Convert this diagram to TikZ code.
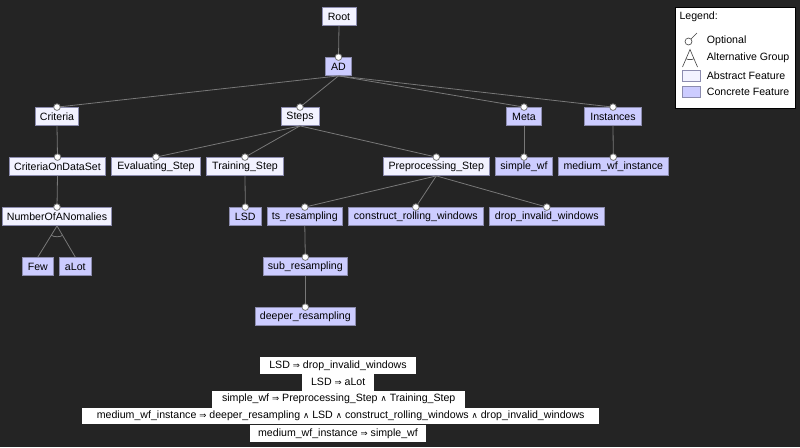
\documentclass[tikz,border=0pt]{standalone}
\usepackage{fontspec}
\usetikzlibrary{calc}
\setmainfont{Liberation Sans}
\newfontfamily\symfont{DejaVu Sans}
\definecolor{bgc}{RGB}{36,36,36}
\definecolor{absfill}{RGB}{242,242,255}
\definecolor{confill}{RGB}{204,204,255}
\definecolor{fborder}{RGB}{140,140,175}
\definecolor{edgec}{RGB}{120,120,120}
\tikzset{
  feat/.style={draw=fborder, line width=0.8pt, minimum height=18pt, inner xsep=2pt, inner ysep=0pt, font=\fontsize{10.6}{12}\selectfont, text=black},
  abs/.style={feat, fill=absfill},
  con/.style={feat, fill=confill},
  edge/.style={draw=edgec, line width=0.8pt},
  opt/.style={draw=edgec, fill=white, line width=0.8pt},
  cons/.style={fill=white, inner xsep=2pt, inner ysep=0pt, minimum height=16.6pt, font=\fontsize{10.6}{12}\selectfont, text=black},
  legtext/.style={anchor=west, inner sep=0pt, font=\fontsize{10.6}{12}\selectfont, text=black},
  legline/.style={draw=black!75, line width=0.6pt}
}
\newcommand{\myimp}{{\symfont\fontsize{8.5}{10}\selectfont ⇒}}
\newcommand{\myand}{{\symfont\fontsize{8.5}{10}\selectfont ∧}}
\begin{document}
\begin{tikzpicture}[x=1pt,y=-1pt]
\fill[bgc] (0,0) rectangle (800,447);
\useasboundingbox (0,0) rectangle (800,447);
% nodes
\node[abs, minimum width=34pt] (root) at (339,16.5) {Root};
\node[con, minimum width=26pt] (ad) at (338.5,66.5) {AD};
\node[abs, minimum width=43pt] (criteria) at (57,116.5) {Criteria};
\node[abs, minimum width=38pt] (steps) at (300,116.5) {Steps};
\node[con, minimum width=35pt] (meta) at (524,116.5) {Meta};
\node[con, minimum width=57pt] (inst) at (613,116.5) {Instances};
\node[abs, minimum width=96pt] (cods) at (57.5,166.5) {CriteriaOnDataSet};
\node[abs, minimum width=89pt] (eval) at (156,166.5) {Evaluating\_Step};
\node[abs, minimum width=77pt] (train) at (245,166.5) {Training\_Step};
\node[abs, minimum width=106pt] (prep) at (436.3,166.5) {Preprocessing\_Step};
\node[con, minimum width=57pt] (swf) at (524,166.5) {simple\_wf};
\node[con, minimum width=110pt] (mwi) at (613.3,166.5) {medium\_wf\_instance};
\node[abs, minimum width=109pt] (noa) at (57,216.5) {NumberOfANomalies};
\node[con, minimum width=32pt] (lsd) at (245.3,216.5) {LSD};
\node[con, minimum width=75pt] (tsr) at (304.8,216.5) {ts\_resampling};
\node[con, minimum width=135pt] (crw) at (415.8,216.5) {construct\_rolling\_windows};
\node[con, minimum width=115pt] (diw) at (546.8,216.5) {drop\_invalid\_windows};
\node[con, minimum width=31pt] (few) at (37.8,266.5) {Few};
\node[con, minimum width=32pt] (alot) at (75.3,266.5) {aLot};
\node[con, minimum width=84pt] (subr) at (305.3,266.5) {sub\_resampling};
\node[con, minimum width=100pt] (deep) at (305.3,316.5) {deeper\_resampling};
% edges (optional)
\foreach \p/\c in {root/ad, ad/criteria, ad/steps, ad/meta, ad/inst, criteria/cods, steps/eval, steps/train, steps/prep, meta/swf, inst/mwi, cods/noa, train/lsd, prep/tsr, prep/crw, prep/diw, tsr/subr, subr/deep}{
  \draw[edge] (\p.south) -- (\c.north);
}
% alternative group
\draw[edge] (noa.south) -- (few.north);
\draw[edge] (noa.south) -- (alot.north);
\draw[edge] ($(noa.south)!11pt!(few.north)$) .. controls ($(noa.south)+(-2.9,11.3)$) and ($(noa.south)+(2.9,11.3)$) .. ($(noa.south)!11pt!(alot.north)$);
\foreach \c in {ad, criteria, steps, meta, inst, cods, eval, train, prep, swf, mwi, noa, lsd, tsr, crw, diw, subr, deep}{
  \draw[opt] (\c.north) circle (3.3pt);
}
% constraints
\node[cons, minimum width=156pt] (c1) at (338,365.3) {LSD \myimp{} drop\_invalid\_windows};
\node[cons, minimum width=72pt] (c2) at (338.2,382.2) {LSD \myimp{} aLot};
\node[cons, minimum width=253pt] (c3) at (338.7,399.2) {simple\_wf \myimp{} Preprocessing\_Step \myand{} Training\_Step};
\node[cons, minimum width=517pt] (c4) at (340.7,416) {medium\_wf\_instance \myimp{} deeper\_resampling \myand{} LSD \myand{} construct\_rolling\_windows \myand{} drop\_invalid\_windows};
\node[cons, minimum width=176pt] (c5) at (338,433.3) {medium\_wf\_instance \myimp{} simple\_wf};
% legend
\node[draw=black, fill=white, line width=0.8pt, minimum width=120pt, minimum height=101pt, anchor=north west] (legend) at (675.3,7.3) {};
\node[legtext] (lt) at (679.3,16.7) {Legend:};
\coordinate (oc) at (688.5,41.5);
\draw[legline] (oc) ++(2.4,-2.4) -- ++(6,-6);
\draw[legline] (oc) circle (3.5pt);
\node[legtext] (l1) at (706.7,41) {Optional};
\coordinate (aa) at (690,49.5);
\coordinate (al) at (682.5,67);
\coordinate (ar) at (697.5,67);
\draw[legline] (al) -- (aa) -- (ar);
\draw[legline] ($(aa)!10pt!(al)$) .. controls ($(aa)+(-2.5,10.4)$) and ($(aa)+(2.5,10.4)$) .. ($(aa)!10pt!(ar)$);
\node[legtext] (l2) at (706.7,58) {Alternative Group};
\node[draw=fborder, fill=absfill, line width=0.8pt, minimum width=18.4pt, minimum height=10.7pt, inner sep=0pt] (la) at (691.5,75.7) {};
\node[legtext] (l3) at (706.7,75.3) {Abstract Feature};
\node[draw=fborder, fill=confill, line width=0.8pt, minimum width=18.4pt, minimum height=10.7pt, inner sep=0pt] (lc) at (691.5,92) {};
\node[legtext] (l4) at (706.7,91.7) {Concrete Feature};
\end{tikzpicture}
\end{document}
